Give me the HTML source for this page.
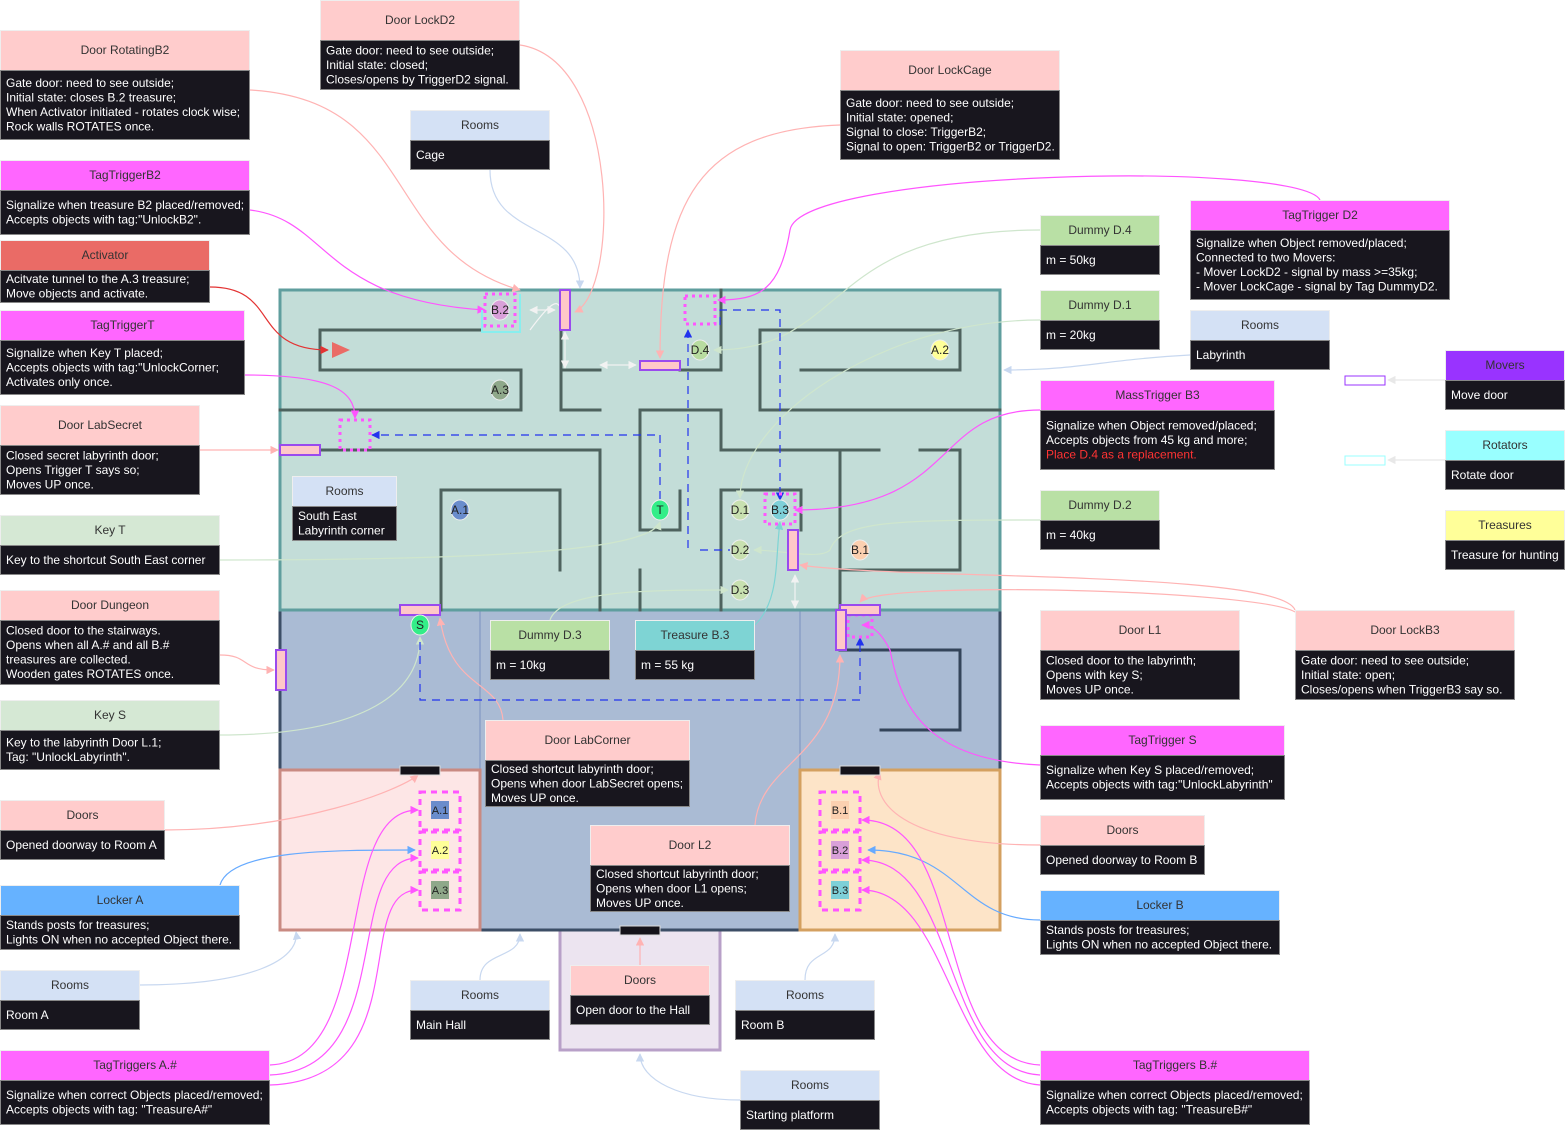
<!DOCTYPE html>
<html><head><meta charset="utf-8">
<style>
html,body{margin:0;padding:0;background:#fff;}
svg{display:block;font-family:"Liberation Sans",sans-serif;}
</style></head>
<body>
<svg id="s" width="1566" height="1131" viewBox="0 0 1566 1131" xmlns="http://www.w3.org/2000/svg">
<defs>
<marker id="ar" viewBox="0 0 10 10" refX="9" refY="5" markerWidth="7" markerHeight="7" orient="auto-start-reverse"><path d="M0,0L10,5L0,10z" fill="context-stroke"/></marker>
</defs>
<!-- rooms -->
<g>
<rect x="560" y="930" width="160" height="120" fill="#ece4f0" stroke="#b8a0c8" stroke-width="3"/>
<rect x="280" y="610" width="720" height="320" fill="#aabbd4" stroke="#3c4e66" stroke-width="3"/>
<line x1="480" y1="610" x2="480" y2="930" stroke="#7a90c0" stroke-width="1"/>
<line x1="800" y1="610" x2="800" y2="930" stroke="#7a90c0" stroke-width="1"/>
<rect x="280" y="770" width="200" height="160" fill="#fde6e6" stroke="#c98a82" stroke-width="3"/>
<rect x="800" y="770" width="200" height="160" fill="#fde4c8" stroke="#d4a060" stroke-width="3"/>
<rect x="280" y="290" width="720" height="320" fill="#c3ddd8" stroke="#5f9e9e" stroke-width="3"/>
</g>
<g id="walls" stroke="#4e625e" stroke-width="3" fill="none" stroke-linecap="square">
<path d="M480,330H320V370H521V410H280"/>
<path d="M561,330V410M561,370H600M561,410H600"/>
<path d="M680,370H721V290"/>
<path d="M960,330H760V410H1000M801,370H960V330"/>
<path d="M680,491V530H640V410H721V450H879M920,450H960V570H840M840,450V610"/>
<path d="M321,450H600V610"/>
<path d="M560,570V490H441V610"/>
<path d="M640,570V610"/>
<path d="M801,530V490H721V610"/>
<path d="M840,650H960V730H881" stroke="#34445a"/>
</g>
<g id="lines" fill="none" stroke-width="1.2"></g>
<g id="marks"></g>
<g id="boxes"></g>
</svg>
<script>
var NS="http://www.w3.org/2000/svg";
function mk(t,a,p){var e=document.createElementNS(NS,t);for(var k in a)e.setAttribute(k,a[k]);p.appendChild(e);return e;}
var L=document.getElementById('lines'),M=document.getElementById('marks'),B=document.getElementById('boxes');
// connectors
var conns=[
["#ffb3b3","M250,90 C420,100 380,250 520,290"],
["#ffb3b3","M520,45 C620,60 620,290 575,312"],
["#c8d8f0","M490,170 C490,240 580,220 580,288"],
["#ff55ff","M250,210 C330,220 320,300 485,310"],
["#e33333","M210,287 C280,287 250,350 328,350"],
["#ff55ff","M245,375 C330,375 355,390 355,418"],
["#ffb3b3","M200,450 L278,450"],
["#cfe6cd","M220,560 C500,560 650,550 660,522"],
["#ffb3b3","M220,655 C250,655 240,670 274,670"],
["#cfe6cd","M220,735 C350,735 420,700 420,637"],
["#ffb3b3","M165,830 C300,830 400,790 418,775"],
["#66aaff","M220,885 C230,850 330,850 415,850"],
["#c8d8f0","M140,985 C250,985 300,960 296,932"],
["#ff55ff","M270,1065 C380,1060 330,810 418,810"],
["#ff55ff","M270,1075 C400,1070 340,858 418,858"],
["#ff55ff","M270,1085 C420,1080 350,890 418,890"],
["#ffb3b3","M840,125 C700,130 660,200 660,358"],
["#cfe6cd","M1040,230 C820,230 850,350 714,350"],
["#ff55ff","M1320,200 C1300,160 800,170 790,230 C780,290 760,300 718,300"],
["#cfe6cd","M1040,320 C880,320 740,420 740,498"],
["#c8d8f0","M1190,355 C1100,360 1080,370 1004,370"],
["#e8e8e8","M1445,380 L1388,380"],
["#e8e8e8","M1445,460 L1388,460"],
["#ff55ff","M1040,410 C930,410 960,510 795,510"],
["#cfe6cd","M1040,520 C900,520 840,520 830,550 C820,560 780,550 754,550"],
["#ffb3b3","M1295,610 C1280,570 900,580 800,565"],
["#ffb3b3","M1295,612 C1260,590 880,580 860,602"],
["#ff55ff","M1040,765 C920,760 900,700 890,650 C880,630 870,625 862,625"],
["#ffb3b3","M1040,845 C900,845 870,800 880,772"],
["#66aaff","M1040,920 C960,920 960,850 868,850"],
["#ff55ff","M1040,1065 C930,1060 970,820 862,820"],
["#ff55ff","M1040,1075 C940,1070 960,860 862,860"],
["#ff55ff","M1040,1085 C950,1080 950,890 862,890"],
["#c8d8f0","M805,980 C805,950 835,960 835,934"],
["#c8d8f0","M480,980 C480,950 520,960 520,934"],
["#c8d8f0","M740,1100 C680,1100 640,1080 640,1054"],
["#ffb3b3","M640,965 L640,938"],
["#ffb3b3","M503,720 C500,680 450,690 440,618"],
["#ffb3b3","M755,825 C760,760 840,760 840,655"],
["#7ed4d4","M755,625 C780,600 775,560 780,522"],
["#cfe6cd","M550,620 C560,590 650,590 728,590"],
["#f4f4f4","M530,330 C560,290 560,300 565,330"]
];
conns.forEach(function(c){var p=mk('path',{d:c[1],stroke:c[0],'marker-end':'url(#ar)'},L);

});
// blue dashed signal lines
var dash=["M655,435 H372","M660,435 V500","M720,325 V310 H780 V500","M688,548 V330","M700,550 H730","M420,642 V700 H860 V638"];
dash.forEach(function(d){var p=mk('path',{d:d,stroke:"#2233ee",'stroke-dasharray':"8 6",'marker-end':(d.indexOf('H372')>0||d.indexOf('H780')>0||d.indexOf('V638')>0||d.indexOf('V330')>0)?'url(#ar)':''},L);

});
var white=["M565,332 V368","M600,365 H636","M795,575 V608","M530,310 H555"];
white.forEach(function(d){var p=mk('path',{d:d,stroke:"#f2f2f2",'marker-end':'url(#ar)','marker-start':'url(#ar)'},L);

});
// dotted trigger zones
var zones=[[485,294,30,32],[685,296,30,28],[340,420,30,30],[765,494,30,30],[848,615,24,22]];
zones.forEach(function(z){var r=mk('rect',{x:z[0],y:z[1],width:z[2],height:z[3],fill:'none',stroke:'#ff55ff','stroke-width':3,'stroke-dasharray':'3 4'},M);

});
mk('path',{d:"M482,310 V332 H520 V294",fill:'none',stroke:'#88eeee','stroke-width':2},M);
// doors
var doors=[[560,290,10,40],[640,361,40,9],[280,445,40,10],[400,605,40,10],[788,530,10,40],[840,605,40,10],[836,610,10,40],[276,650,10,40]];
doors.forEach(function(d){var r=mk('rect',{x:d[0],y:d[1],width:d[2],height:d[3],fill:'#ffc8c8',stroke:'#9a4aee','stroke-width':2},M);

});
var ways=[[400,766,40,9],[840,766,40,9],[620,926,40,9]];
ways.forEach(function(d){var r=mk('rect',{x:d[0],y:d[1],width:d[2],height:d[3],fill:'#15131a',stroke:'#ddd','stroke-width':1},M);

});
// legend small rects
mk('rect',{x:1345,y:376,width:40,height:9,fill:'#fff',stroke:'#9933ff'},M);
mk('rect',{x:1345,y:456,width:40,height:9,fill:'#fff',stroke:'#99ffff'},M);
mk('path',{d:"M332,342 L350,350 L332,358z",fill:'#ea6b66'},M);
// objects
var objs=[["B.2",500,310,"#d9a0d9"],["A.3",500,390,"#8fa88a"],["D.4",700,350,"#b8dca0"],["A.2",940,350,"#ffff99"],["A.1",460,510,"#6a8ccc"],["T",660,510,"#33ee88"],["D.1",740,510,"#c8e0b0"],["B.3",780,510,"#7ed0d8"],["D.2",740,550,"#c8e0b0"],["B.1",860,550,"#fbd0b0"],["D.3",740,590,"#c8e0b0"],["S",420,625,"#33ee88"]];
objs.forEach(function(o){var g=mk('g',{},M);


mk('ellipse',{cx:o[1],cy:o[2],rx:9,ry:10,fill:o[3],stroke:'#eee'},g);
var t=mk('text',{x:o[1],y:o[2]+4,'text-anchor':'middle','font-size':12,fill:'#222'},g);t.textContent=o[0];});
// treasure posts
var posts=[["A.1",440,810,"#6a8ccc"],["A.2",440,850,"#ffff99"],["A.3",440,890,"#8fa88a"],["B.1",840,810,"#fbd0b0"],["B.2",840,850,"#d9a0d9"],["B.3",840,890,"#7ed0d8"]];
posts.forEach(function(o){var g=mk('g',{},M);


mk('rect',{x:o[1]-20,y:o[2]-18,width:40,height:38,fill:'none',stroke:'#ff55ff','stroke-width':3,'stroke-dasharray':'6 5'},g);
mk('rect',{x:o[1]-9,y:o[2]-9,width:18,height:18,fill:o[3]},g);
var t=mk('text',{x:o[1],y:o[2]+4,'text-anchor':'middle','font-size':11,fill:'#222'},g);t.textContent=o[0];});
// info boxes: x,y,w,headerH,bodyH,color,title,lines,red-last
var boxes=[
[0,30,250,40,70,"#ffcccc","Door RotatingB2",["Gate door: need to see outside;","Initial state: closes B.2 treasure;","When Activator initiated - rotates clock wise;","Rock walls ROTATES once."]],
[0,160,250,30,45,"#ff66ff","TagTriggerB2",["Signalize when treasure B2 placed/removed;","Accepts objects with tag:\"UnlockB2\"."]],
[0,240,210,30,33,"#ea6b66","Activator",["Acitvate tunnel to the A.3 treasure;","Move objects and activate."]],
[0,310,245,30,55,"#ff66ff","TagTriggerT",["Signalize when Key T placed;","Accepts objects with tag:\"UnlockCorner;","Activates only once."]],
[0,405,200,40,50,"#ffcccc","Door LabSecret",["Closed secret labyrinth door;","Opens Trigger T says so;","Moves UP once."]],
[0,515,220,30,30,"#d5e8d4","Key T",["Key to the shortcut South East corner"]],
[0,590,220,30,65,"#ffcccc","Door Dungeon",["Closed door to the stairways.","Opens when all A.# and all B.#","treasures are collected.","Wooden gates ROTATES once."]],
[0,700,220,30,40,"#d5e8d4","Key S",["Key to the labyrinth Door L.1;","Tag: \"UnlockLabyrinth\"."]],
[0,800,165,30,30,"#ffcccc","Doors",["Opened doorway to Room A"]],
[0,885,240,30,35,"#66b2ff","Locker A",["Stands posts for treasures;","Lights ON when no accepted Object there."]],
[0,970,140,30,30,"#d4e1f5","Rooms",["Room A"]],
[0,1050,270,30,45,"#ff66ff","TagTriggers A.#",["Signalize when correct Objects placed/removed;","Accepts objects with tag: \"TreasureA#\""]],
[320,0,200,40,50,"#ffcccc","Door LockD2",["Gate door: need to see outside;","Initial state: closed;","Closes/opens by TriggerD2 signal."]],
[410,110,140,30,30,"#d4e1f5","Rooms",["Cage"]],
[840,50,220,40,70,"#ffcccc","Door LockCage",["Gate door: need to see outside;","Initial state: opened;","Signal to close: TriggerB2;","Signal to open: TriggerB2 or TriggerD2."]],
[1040,215,120,30,30,"#b9e0a5","Dummy D.4",["m = 50kg"]],
[1040,290,120,30,30,"#b9e0a5","Dummy D.1",["m = 20kg"]],
[1190,200,260,30,70,"#ff66ff","TagTrigger D2",["Signalize when Object removed/placed;","Connected to two Movers:","- Mover LockD2 - signal by mass >=35kg;","- Mover LockCage - signal by Tag DummyD2."]],
[1190,310,140,30,30,"#d4e1f5","Rooms",["Labyrinth"]],
[1445,350,120,30,30,"#9933ff","Movers",["Move door"]],
[1445,430,120,30,30,"#99ffff","Rotators",["Rotate door"]],
[1445,510,120,30,30,"#ffff99","Treasures",["Treasure for hunting"]],
[1040,380,235,30,60,"#ff66ff","MassTrigger B3",["Signalize when Object removed/placed;","Accepts objects from 45 kg and more;","Place D.4 as a replacement."],true],
[1040,490,120,30,30,"#b9e0a5","Dummy D.2",["m = 40kg"]],
[1040,610,200,40,50,"#ffcccc","Door L1",["Closed door to the labyrinth;","Opens with key S;","Moves UP once."]],
[1295,610,220,40,50,"#ffcccc","Door LockB3",["Gate door: need to see outside;","Initial state: open;","Closes/opens when TriggerB3 say so."]],
[1040,725,245,30,45,"#ff66ff","TagTrigger S",["Signalize when Key S placed/removed;","Accepts objects with tag:\"UnlockLabyrinth\""]],
[1040,815,165,30,30,"#ffcccc","Doors",["Opened doorway to Room B"]],
[1040,890,240,30,35,"#66b2ff","Locker B",["Stands posts for treasures;","Lights ON when no accepted Object there."]],
[1040,1050,270,30,45,"#ff66ff","TagTriggers B.#",["Signalize when correct Objects placed/removed;","Accepts objects with tag: \"TreasureB#\""]],
[292,476,105,30,35,"#d4e1f5","Rooms",["South East","Labyrinth corner"]],
[490,620,120,30,30,"#b9e0a5","Dummy D.3",["m = 10kg"]],
[635,620,120,30,30,"#7ed4d4","Treasure B.3",["m = 55 kg"]],
[485,720,205,40,47,"#ffcccc","Door LabCorner",["Closed shortcut labyrinth door;","Opens when door LabSecret opens;","Moves UP once."]],
[590,825,200,40,47,"#ffcccc","Door L2",["Closed shortcut labyrinth door;","Opens when door L1 opens;","Moves UP once."]],
[410,980,140,30,30,"#d4e1f5","Rooms",["Main Hall"]],
[570,965,140,30,30,"#ffcccc","Doors",["Open door to the Hall"]],
[735,980,140,30,30,"#d4e1f5","Rooms",["Room B"]],
[740,1070,140,30,30,"#d4e1f5","Rooms",["Starting platform"]]
];
boxes.forEach(function(b){
var g=mk('g',{},B);


mk('rect',{x:b[0]+0.5,y:b[1]+0.5,width:b[2]-1,height:b[3],fill:b[5],stroke:'#eeeeee'},g);
var t=mk('text',{x:b[0]+b[2]/2,y:b[1]+b[3]/2+4,'text-anchor':'middle','font-size':12,fill:'#333'},g);t.textContent=b[6];
mk('rect',{x:b[0]+0.5,y:b[1]+b[3]+0.5,width:b[2]-1,height:b[4]-1,fill:'#18161e',stroke:'#888'},g);
var n=b[7].length,lh=14.5,top=b[1]+b[3]+(b[4]-n*lh)/2;
b[7].forEach(function(s,i){var tt=mk('text',{x:b[0]+6,y:top+lh*i+11,'font-size':12,fill:(b[8]&&i==n-1)?'#ff3333':'#fff'},g);tt.textContent=s;});
});
</script>
</body></html>
